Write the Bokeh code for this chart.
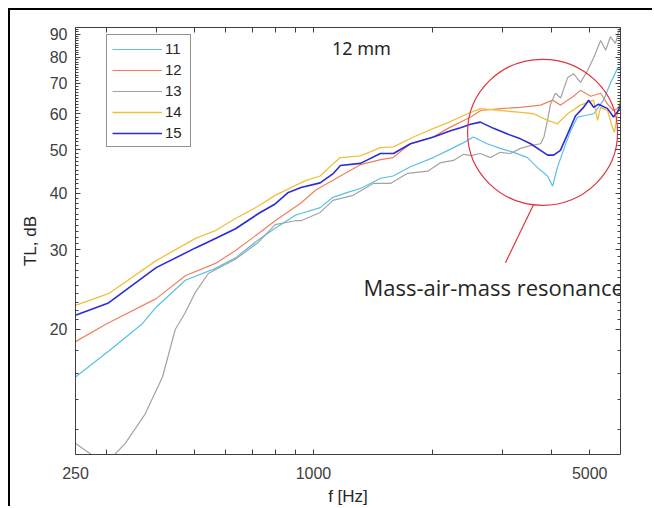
from bokeh.plotting import figure
from bokeh.models import LogAxis, FixedTicker, CustomJSTickFormatter, Legend, LegendItem, Label
from bokeh.embed import file_html
from bokeh.resources import INLINE

# ---------------- data ----------------
freq_11 = [250, 303, 369, 400, 474, 565, 635, 726, 800, 900, 930, 1040, 1120, 1220, 1315, 1480, 1590,
           1760, 2010, 2190, 2400, 2540, 2750, 2970, 3210, 3480, 3690, 3910, 4030, 4140, 4290, 4475,
           4660, 4830, 5120, 5420, 5640, 5880, 5983]
tl_11 = [15.7, 17.9, 20.6, 22.4, 25.7, 27.3, 28.8, 31.6, 33.5, 35.8, 36.1, 37.2, 39.2, 40.2, 41.0, 43.2,
         43.7, 45.8, 48.0, 49.8, 51.8, 53.3, 51.5, 50.3, 49.3, 48.0, 45.6, 43.7, 41.5, 45.6, 49.8, 55.0,
         59.0, 59.4, 60.0, 64.3, 70.1, 75.6, 76.0]

freq_12 = [250, 300, 400, 474, 565, 635, 726, 800, 930, 1010, 1040, 1170, 1315, 1480, 1590, 1760, 2010,
           2190, 2500, 2650, 2970, 3340, 3755, 4030, 4220, 4550, 4740, 5030, 5330, 5550, 5740, 5983]
tl_12 = [18.8, 20.6, 23.4, 26.3, 28.0, 29.9, 32.6, 34.8, 38.1, 40.6, 41.2, 43.7, 46.3, 47.5, 48.0, 51.5,
         53.3, 55.7, 59.0, 61.0, 61.6, 62.0, 62.7, 64.3, 62.7, 65.6, 67.6, 65.6, 66.6, 63.0, 61.0, 62.0]

freq_13 = [250, 265, 280, 295, 310, 334, 375, 415, 447, 474, 503, 542, 635, 726, 800, 900, 930, 1040,
           1120, 1260, 1420, 1570, 1730, 1950, 2100, 2260, 2400, 2500, 2645, 2805, 2970, 3150, 3340,
           3540, 3755, 3830, 3910, 3980, 4095, 4220, 4400, 4550, 4740, 4940, 5120, 5330, 5490, 5640,
           5810, 5910, 5983]
tl_13 = [11.2, 10.8, 10.45, 10.3, 10.45, 11.2, 13.0, 15.7, 20.0, 21.8, 24.2, 26.6, 28.6, 31.2, 34.1,
         34.8, 34.8, 36.3, 38.6, 39.6, 42.1, 42.1, 44.3, 44.8, 46.8, 47.3, 48.8, 48.5, 49.0, 48.0, 49.3,
         49.0, 50.3, 51.0, 51.5, 53.3, 58.0, 63.0, 66.6, 65.0, 72.2, 73.6, 70.4, 74.8, 79.9, 87.1, 82.9,
         88.8, 85.9, 90.8, 93.0]

freq_14 = [250, 303, 400, 503, 565, 635, 726, 800, 954, 1040, 1124, 1170, 1315, 1477, 1594, 1791, 2013,
           2185, 2454, 2645, 2973, 3341, 3609, 3914, 4144, 4396, 4737, 5116, 5234, 5328, 5548, 5709,
           5776, 5878, 5983]
tl_14 = [22.6, 24.0, 28.4, 31.8, 33.1, 35.2, 37.5, 39.6, 42.7, 43.7, 46.6, 48.0, 48.4, 50.5, 50.7, 53.3,
         55.7, 57.3, 60.0, 61.6, 61.0, 60.4, 60.0, 58.0, 57.0, 60.0, 62.7, 64.3, 58.0, 62.0, 61.0, 55.9,
         54.6, 60.0, 65.0]

freq_15 = [250, 303, 400, 503, 565, 635, 726, 800, 864, 930, 1040, 1124, 1170, 1315, 1477, 1594, 1760,
           2013, 2222, 2357, 2498, 2645, 2855, 3099, 3341, 3544, 3755, 3914, 4052, 4216, 4396, 4605,
           4826, 4970, 5116, 5264, 5548, 5742, 5913, 5983]
tl_15 = [21.5, 22.9, 27.4, 30.3, 31.8, 33.4, 36.1, 37.9, 40.2, 41.2, 42.2, 44.3, 46.1, 46.6, 49.0, 49.0,
         51.5, 53.3, 55.0, 55.9, 56.9, 57.5, 55.7, 54.1, 52.8, 51.5, 49.8, 48.6, 48.6, 49.8, 54.1, 59.4,
         62.0, 64.3, 62.0, 63.0, 61.6, 59.0, 61.0, 63.0]

series_names = ["11", "12", "13", "14", "15"]
series_freqs = [freq_11, freq_12, freq_13, freq_14, freq_15]
series_tls = [tl_11, tl_12, tl_13, tl_14, tl_15]
series_colors = ["#5BBFE6", "#F0805C", "#A3A3A3", "#EFC03E", "#2B2BD8"]
series_widths = [1.2, 1.2, 1.2, 1.3, 1.6]

x_ticks = [250, 300, 400, 500, 600, 700, 800, 900, 1000, 2000, 3000, 4000, 5000]
x_labels = [250, 1000, 5000]
y_ticks = [20, 30, 40, 50, 60, 70, 80, 90]
y_minor = [12, 14, 16, 18] + [v for v in range(21, 94) if v % 10 != 0]

x_lim = (250, 5983)
y_lim = (10.58, 93.1)

title_text = "12 mm"
title_pos = (1323, 83.7)
note_text = "Mass-air-mass resonance"
note_pos = (2857, 24.8)
circle_pos = (3800, 54.6)
pointer_from = (3606, 37.8)
pointer_to = (3061, 28.1)

AX_FONT = "Liberation Sans"
TXT = "#262626"
AXC = "#404040"
RED = "#E0353F"

W, H = 644, 498   # plus 8px offset and 2px frame line on the left / top

# ---------------- figure ----------------
p = figure(width=W, height=H, x_axis_type="log", y_axis_type="log",
           x_range=x_lim, y_range=y_lim,
           output_backend="svg", toolbar_location=None,
           min_border_left=65, min_border_right=34, min_border_top=17, min_border_bottom=54)
p.styles = {"margin-left": "8px", "margin-top": "8px",
            "border-left": "2px solid #000000", "border-top": "2px solid #000000"}
p.outline_line_color = None
p.grid.visible = False
p.background_fill_color = "white"
p.border_fill_color = "white"

renderers = []
for name, fr, tl, col, lw in zip(series_names, series_freqs, series_tls, series_colors, series_widths):
    r = p.line(fr, tl, line_color=col, line_width=lw)
    renderers.append(r)

# extra box axes
top_axis = LogAxis()
right_axis = LogAxis()
p.add_layout(top_axis, "above")
p.add_layout(right_axis, "right")

label_js = "const t = Math.round(tick); return (%s).includes(t) ? String(t) : '';" % str(x_labels)

for ax in p.xaxis:
    ax.ticker = FixedTicker(ticks=x_ticks, minor_ticks=[])
for ax in p.yaxis:
    ax.ticker = FixedTicker(ticks=y_ticks, minor_ticks=y_minor)

for ax in list(p.xaxis) + list(p.yaxis):
    ax.axis_line_color = AXC
    ax.axis_line_width = 1
    ax.major_tick_line_color = AXC
    ax.minor_tick_line_color = AXC
    ax.major_tick_in = 5
    ax.major_tick_out = 0
    ax.minor_tick_in = 3
    ax.minor_tick_out = 0
    ax.major_label_text_font = AX_FONT
    ax.major_label_text_font_size = "16px"
    ax.major_label_text_color = AXC
    ax.axis_label_text_font = AX_FONT
    ax.axis_label_text_font_size = "17px"
    ax.axis_label_text_font_style = "normal"
    ax.axis_label_text_color = TXT

bottom = p.below[0]
bottom.formatter = CustomJSTickFormatter(code=label_js)
bottom.major_label_standoff = 12
bottom.axis_label = "f [Hz]"
bottom.axis_label_standoff = 5

left = p.left[0]
left.formatter = CustomJSTickFormatter(code="return String(Math.round(tick));")
left.major_label_standoff = 8
left.axis_label = "TL, dB"
left.axis_label_standoff = 7

for ax in (top_axis, right_axis):
    ax.formatter = CustomJSTickFormatter(code="return '';")
    ax.major_label_standoff = 0
    ax.major_label_text_font_size = "0px"

# legend
legend = Legend(items=[LegendItem(label=n, renderers=[r]) for n, r in zip(series_names, renderers)],
                location=(31, 307), padding=5, spacing=4, margin=0,
                glyph_width=50, glyph_height=16, label_height=16, label_standoff=3,
                label_text_font=AX_FONT, label_text_font_size="15px", label_text_color=TXT,
                border_line_color=TXT, border_line_width=1, background_fill_color="white",
                background_fill_alpha=1)
p.add_layout(legend)

# annotations
p.add_layout(Label(x=title_pos[0], y=title_pos[1], text=title_text, text_align="center",
                   text_baseline="middle", text_font="Noto Sans", text_font_size="18px",
                   text_color=TXT))
p.add_layout(Label(x=note_pos[0], y=note_pos[1], text=note_text, text_align="center",
                   text_baseline="middle", text_font="Open Sans", text_font_size="22px",
                   text_color=TXT))
p.ellipse(x=[circle_pos[0]], y=[circle_pos[1]], width=150, height=146,
          width_units="screen", height_units="screen",
          fill_alpha=0, line_color=RED, line_width=1.2)
p.segment(x0=[pointer_from[0]], y0=[pointer_from[1]], x1=[pointer_to[0]], y1=[pointer_to[1]],
          line_color=RED, line_width=1.2)

open("out.html", "w").write(file_html(p, INLINE))
